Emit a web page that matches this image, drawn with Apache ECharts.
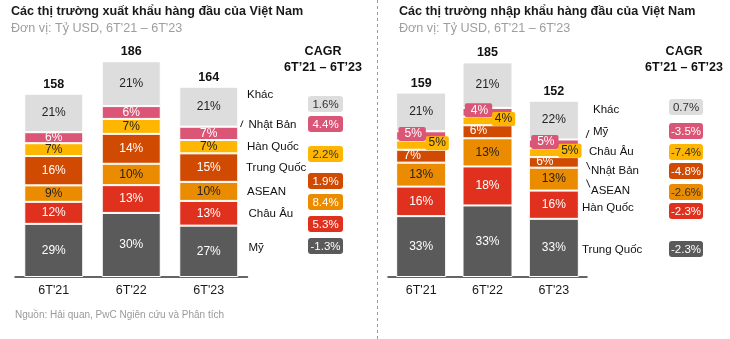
<!DOCTYPE html>
<html><head><meta charset="utf-8">
<script src="https://cdn.jsdelivr.net/npm/echarts@6/dist/echarts.min.js"></script>
<style>html,body{margin:0;padding:0;background:#fff}#c{width:730px;height:339px}</style>
</head><body><div id="c"></div>
<script>
// ---------- DATA ----------
const periods = ["6T'21", "6T'22", "6T'23"];

// Export (Tỷ USD totals, % shares by market)
const exportTotals   = [158, 186, 164];
const exportMy       = [29, 30, 27];
const exportChauAu   = [12, 13, 13];
const exportAsean    = [9, 10, 10];
const exportTrungQuoc= [16, 14, 15];
const exportHanQuoc  = [7, 7, 7];
const exportNhatBan  = [6, 6, 7];
const exportKhac     = [21, 21, 21];
// CAGR labels listed top to bottom as shown
const exportLegendNames = ['Khác', 'Nhật Bản', 'Hàn Quốc', 'Trung Quốc', 'ASEAN', 'Châu Âu', 'Mỹ'];
const exportCagr        = ['1.6%', '4.4%', '2.2%', '1.9%', '8.4%', '5.3%', '-1.3%'];

// Import
const importTotals    = [159, 185, 152];
const importTrungQuoc = [33, 33, 33];
const importHanQuoc   = [16, 18, 16];
const importAsean     = [13, 13, 13];
const importNhatBan   = [7, 6, 6];
const importChauAu    = [5, 4, 5];
const importMy        = [5, 4, 5];
const importKhac      = [21, 21, 22];
const importLegendNames = ['Khác', 'Mỹ', 'Châu Âu', 'Nhật Bản', 'ASEAN', 'Hàn Quốc', 'Trung Quốc'];
const importCagr        = ['0.7%', '-3.5%', '-7.4%', '-4.8%', '-2.6%', '-2.3%', '-2.3%'];

// ---------- STYLE ----------
const FF = '"Liberation Sans", Arial, sans-serif';
const C = { dg:'#5A5A5A', red:'#E0301E', org:'#EB8C00', dor:'#D04A02', yel:'#FFB600', pink:'#DB5576', lg:'#DDDDDD' };
const exportColor = { 'Mỹ':C.dg, 'Châu Âu':C.red, 'ASEAN':C.org, 'Trung Quốc':C.dor, 'Hàn Quốc':C.yel, 'Nhật Bản':C.pink, 'Khác':C.lg };
const importColor = { 'Trung Quốc':C.dg, 'Hàn Quốc':C.red, 'ASEAN':C.org, 'Nhật Bản':C.dor, 'Châu Âu':C.yel, 'Mỹ':C.pink, 'Khác':C.lg };
const exportCagrText = { 'Khác':'#333', 'Hàn Quốc':'#333' };
const importCagrText = { 'Khác':'#333', 'Châu Âu':'#333', 'ASEAN':'#333' };

const exportSpec = [
  { name:'Mỹ', pct:exportMy, txt:'#fff' },
  { name:'Châu Âu', pct:exportChauAu, txt:'#fff' },
  { name:'ASEAN', pct:exportAsean, txt:'#222' },
  { name:'Trung Quốc', pct:exportTrungQuoc, txt:'#fff' },
  { name:'Hàn Quốc', pct:exportHanQuoc, txt:'#222' },
  { name:'Nhật Bản', pct:exportNhatBan, txt:'#fff' },
  { name:'Khác', pct:exportKhac, txt:'#222' }
];
const importSpec = [
  { name:'Trung Quốc', pct:importTrungQuoc, txt:'#fff' },
  { name:'Hàn Quốc', pct:importHanQuoc, txt:'#fff' },
  { name:'ASEAN', pct:importAsean, txt:'#222' },
  { name:'Nhật Bản', pct:importNhatBan, txt:'#fff', lab:{ offset:[-9,-1], padding:[0,3] } },
  { name:'Châu Âu', pct:importChauAu, txt:'#222', lab:{ offset:[16,-2], padding:[1,3], bg:true } },
  { name:'Mỹ', pct:importMy, txt:'#fff', lab:{ offset:[-9,-2], padding:[1,4,1,6], bg:true } },
  { name:'Khác', pct:importKhac, txt:'#222' }
];

function buildSeries(spec, totals, colors, idx, barWidth) {
  const sums = totals.map((t, i) => spec.reduce((a, s) => a + s.pct[i], 0));
  const out = spec.map(s => {
    const lab = s.lab || {};
    return {
      type:'bar', name:s.name, stack:'s' + idx, xAxisIndex:idx, yAxisIndex:idx,
      barWidth:barWidth,
      data: totals.map((t, i) => t * s.pct[i] / sums[i]),
      itemStyle:{ color:colors[s.name], borderColor:'#fff', borderWidth:1 },
      label:{
        show:true, position:'inside', color:s.txt, fontSize:12, fontFamily:FF,
        offset: lab.offset || [0,0],
        padding: lab.padding || 0,
        backgroundColor: lab.bg ? colors[s.name] : 'transparent',
        borderRadius: lab.bg ? 2 : 0,
        formatter: p => s.pct[p.dataIndex] + '%'
      },
      emphasis:{ disabled:true }, silent:true
    };
  });
  out.push({
    type:'bar', name:'total' + idx, stack:'s' + idx, xAxisIndex:idx, yAxisIndex:idx, barWidth:barWidth,
    data: totals.map(() => 0),
    itemStyle:{ color:'transparent' },
    label:{ show:true, position:'top', distance:3, color:'#111', fontSize:12.5, fontWeight:'bold', fontFamily:FF,
      formatter: p => String(totals[p.dataIndex]) },
    silent:true
  });
  return out;
}

// ---------- GRAPHICS (annotations) ----------
function T(x, y, text, font, fill, align) {
  return { type:'text', x:x, y:y, silent:true,
    style:{ text:text, font:font, fill:fill, align:align || 'left', verticalAlign:'middle',
      textAlign:align || 'left', textVerticalAlign:'middle' } };
}
const fTitle = 'bold 12.6px ' + FF, fSub = '12.6px ' + FF, fLab = '11.5px ' + FF, fHead = 'bold 12.5px ' + FF, fBox = '11.5px ' + FF;

const exportNamePos = [[247,95],[248.5,124.5],[247,147],[246,168],[247,192],[248.5,213.5],[248.5,248]];
const exportBoxY = [104,124,154,181,202,224,246];
const importNamePos = [[593,110],[593,131.5],[589,152],[591,171],[591,190.5],[582,207.5],[582,250]];
const importBoxY = [107,131,152,171,192,211,249];

const graphics = [];
graphics.push({ type:'line', silent:true, shape:{ x1:377.5, y1:0, x2:377.5, y2:339 }, style:{ stroke:'#9a9a9a', lineWidth:1, lineDash:[3,3] } });
graphics.push(T(11, 12, 'Các thị trường xuất khẩu hàng đầu của Việt Nam', fTitle, '#1a1a1a'));
graphics.push(T(11, 29, 'Đơn vị: Tỷ USD, 6T\'21 – 6T\'23', fSub, '#9e9e9e'));
graphics.push(T(399, 12, 'Các thị trường nhập khẩu hàng đầu của Việt Nam', fTitle, '#1a1a1a'));
graphics.push(T(399, 29, 'Đơn vị: Tỷ USD, 6T\'21 – 6T\'23', fSub, '#9e9e9e'));
graphics.push(T(15, 315, 'Nguồn: Hải quan, PwC Ngiên cứu và Phân tích', '10px ' + FF, '#9a9a9a'));
graphics.push(T(323, 52, 'CAGR', fHead, '#111', 'center'));
graphics.push(T(323, 68, '6T’21 – 6T’23', fHead, '#111', 'center'));
graphics.push(T(684, 52, 'CAGR', fHead, '#111', 'center'));
graphics.push(T(684, 68, '6T’21 – 6T’23', fHead, '#111', 'center'));

exportLegendNames.forEach((n, i) => {
  graphics.push(T(exportNamePos[i][0], exportNamePos[i][1], n, fLab, '#111'));
  graphics.push({ type:'rect', silent:true, shape:{ x:308, y:exportBoxY[i] - 8, width:35, height:16, r:3 }, style:{ fill:exportColor[n] } });
  graphics.push(T(325.5, exportBoxY[i] + 0.5, exportCagr[i], fBox, exportCagrText[n] || '#fff', 'center'));
});
importLegendNames.forEach((n, i) => {
  graphics.push(T(importNamePos[i][0], importNamePos[i][1], n, fLab, '#111'));
  graphics.push({ type:'rect', silent:true, shape:{ x:669, y:importBoxY[i] - 8, width:34, height:16, r:3 }, style:{ fill:importColor[n] } });
  graphics.push(T(686, importBoxY[i] + 0.5, importCagr[i], fBox, importCagrText[n] || '#fff', 'center'));
});
// leader ticks
[[240.5,127,243,120.5],[586,138,589,130],[586.5,162,590,169.5],[586.5,179.5,590,187.5]].forEach(l => {
  graphics.push({ type:'line', silent:true, shape:{ x1:l[0], y1:l[1], x2:l[2], y2:l[3] }, style:{ stroke:'#222', lineWidth:1 } });
});

// ---------- CHART ----------
const axisX = (gi) => ({
  type:'category', gridIndex:gi, data:periods,
  axisLine:{ lineStyle:{ color:'#333', width:1.5 } }, axisTick:{ show:false },
  axisLabel:{ color:'#1a1a1a', fontSize:12.5, fontFamily:FF, margin:7 }
});
const axisY = (gi) => ({ type:'value', gridIndex:gi, min:0, max:200, show:false, splitLine:{ show:false } });

const chart = echarts.init(document.getElementById('c'), null, { renderer:'canvas' });
chart.setOption({
  animation:false,
  backgroundColor:'#fff',
  grid:[
    { left:15, width:232.5, top:45, height:232 },
    { left:388, width:199, top:45, height:232 }
  ],
  xAxis:[axisX(0), axisX(1)],
  yAxis:[axisY(0), axisY(1)],
  series:[].concat(
    buildSeries(exportSpec, exportTotals, exportColor, 0, 59),
    buildSeries(importSpec, importTotals, importColor, 1, 50)
  ),
  graphic:graphics
});
</script></body></html>
